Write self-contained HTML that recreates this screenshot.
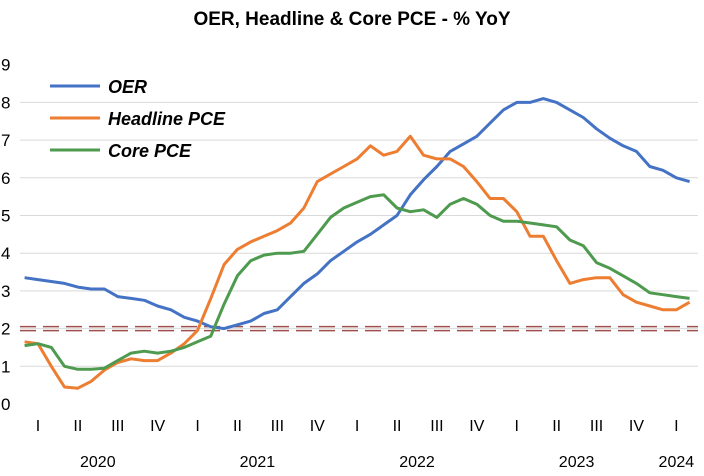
<!DOCTYPE html>
<html><head><meta charset="utf-8"><style>
body{margin:0;background:#fff;}
svg text{font-family:"Liberation Sans",Carlito,sans-serif;fill:#000;}
</style></head><body>
<svg id="chart" width="704" height="471" viewBox="0 0 704 471" xmlns="http://www.w3.org/2000/svg">
<text x="352" y="25" text-anchor="middle" font-size="19" font-weight="bold">OER, Headline &amp; Core PCE - % YoY</text>
<g id="grid"></g><g id="yl"></g><g id="xl"></g><g id="series"></g>
<g>
<line x1="50" y1="86" x2="100" y2="86" stroke="#4472c4" stroke-width="3"/>
<text x="108" y="93" font-size="18" font-weight="bold" font-style="italic">OER</text>
<line x1="50" y1="118" x2="100" y2="118" stroke="#ed7d31" stroke-width="3"/>
<text x="108" y="125" font-size="18" font-weight="bold" font-style="italic">Headline PCE</text>
<line x1="50" y1="150" x2="100" y2="150" stroke="#4e9a4e" stroke-width="3"/>
<text x="108" y="157" font-size="18" font-weight="bold" font-style="italic">Core PCE</text>
</g>
</svg>
<script>
const yTicks=[0,1,2,3,4,5,6,7,8,9];
const quarterLabels=["I","II","III","IV","I","II","III","IV","I","II","III","IV","I","II","III","IV","I"];
const yearLabels=["2020","2021","2022","2023","2024"];
const oer=[3.35,3.3,3.25,3.2,3.1,3.05,3.05,2.85,2.8,2.75,2.6,2.5,2.3,2.2,2.05,2.0,2.1,2.2,2.4,2.5,2.85,3.2,3.45,3.8,4.05,4.3,4.5,4.75,5.0,5.55,5.95,6.3,6.7,6.9,7.1,7.45,7.8,8.0,8.0,8.1,8.0,7.8,7.6,7.3,7.05,6.85,6.7,6.3,6.2,6.0,5.9];
const headline=[1.65,1.6,1.0,0.45,0.42,0.6,0.9,1.1,1.2,1.15,1.15,1.35,1.6,1.95,2.8,3.7,4.1,4.3,4.45,4.6,4.8,5.2,5.9,6.1,6.3,6.5,6.85,6.6,6.7,7.1,6.6,6.5,6.5,6.3,5.9,5.45,5.45,5.1,4.45,4.45,3.8,3.2,3.3,3.35,3.35,2.9,2.7,2.6,2.5,2.5,2.7];
const core=[1.55,1.6,1.5,1.0,0.92,0.92,0.95,1.15,1.35,1.4,1.35,1.4,1.5,1.65,1.8,2.65,3.4,3.8,3.95,4.0,4.0,4.05,4.5,4.95,5.2,5.35,5.5,5.55,5.2,5.1,5.15,4.95,5.3,5.45,5.3,5.0,4.85,4.85,4.8,4.75,4.7,4.35,4.2,3.75,3.6,3.4,3.2,2.95,2.9,2.85,2.8];
const target=2;
const NS="http://www.w3.org/2000/svg";
const X0=18,QW=39.9,MW=QW/3,PR=698;
function yS(v){return 404-37.7*v;}
function xS(i){return X0+MW*(i+0.5);}
function mk(t,a,p){const e=document.createElementNS(NS,t);for(const k in a)e.setAttribute(k,a[k]);p.appendChild(e);return e;}
const grid=document.getElementById('grid'),yl=document.getElementById('yl'),xl=document.getElementById('xl'),sg=document.getElementById('series');
yTicks.forEach(v=>{
 if(v>0&&v<9){const l=mk('line',{x1:20,x2:PR,y1:yS(v),y2:yS(v),stroke:'#d9d9d9','stroke-width':1},grid);
 
 }
 const t=mk('text',{x:1,y:yS(v)+6,'font-size':17},yl);t.textContent=v;
 
 
});
quarterLabels.forEach((q,i)=>{const t=mk('text',{x:X0+QW*(i+0.5),y:431,'font-size':16,'text-anchor':'middle'},xl);t.textContent=q;
 
 });
yearLabels.forEach((y,i)=>{const cx=i<4?X0+QW*4*(i+0.5):X0+QW*16.5;const t=mk('text',{x:cx,y:467,'font-size':16,'text-anchor':'middle'},xl);t.textContent=y;
 
 });
const d1=mk('line',{x1:20,x2:PR,y1:yS(target)-2,y2:yS(target)-2,stroke:'#a0504c','stroke-width':1.5,'stroke-dasharray':'16 7'},sg);


const d2=mk('line',{x1:20,x2:PR,y1:yS(target)+2,y2:yS(target)+2,stroke:'#a0504c','stroke-width':1.5,'stroke-dasharray':'16 7'},sg);


[[oer,'#4472c4','oer-line'],[headline,'#ed7d31','headline-pce-line'],[core,'#4e9a4e','core-pce-line']].forEach(([arr,c,n])=>{
 const p=mk('polyline',{points:arr.map((v,i)=>xS(i).toFixed(1)+','+yS(v).toFixed(1)).join(' '),fill:'none',stroke:c,'stroke-width':3,'stroke-linejoin':'round'},sg);
 
 
});
</script>
</body></html>
